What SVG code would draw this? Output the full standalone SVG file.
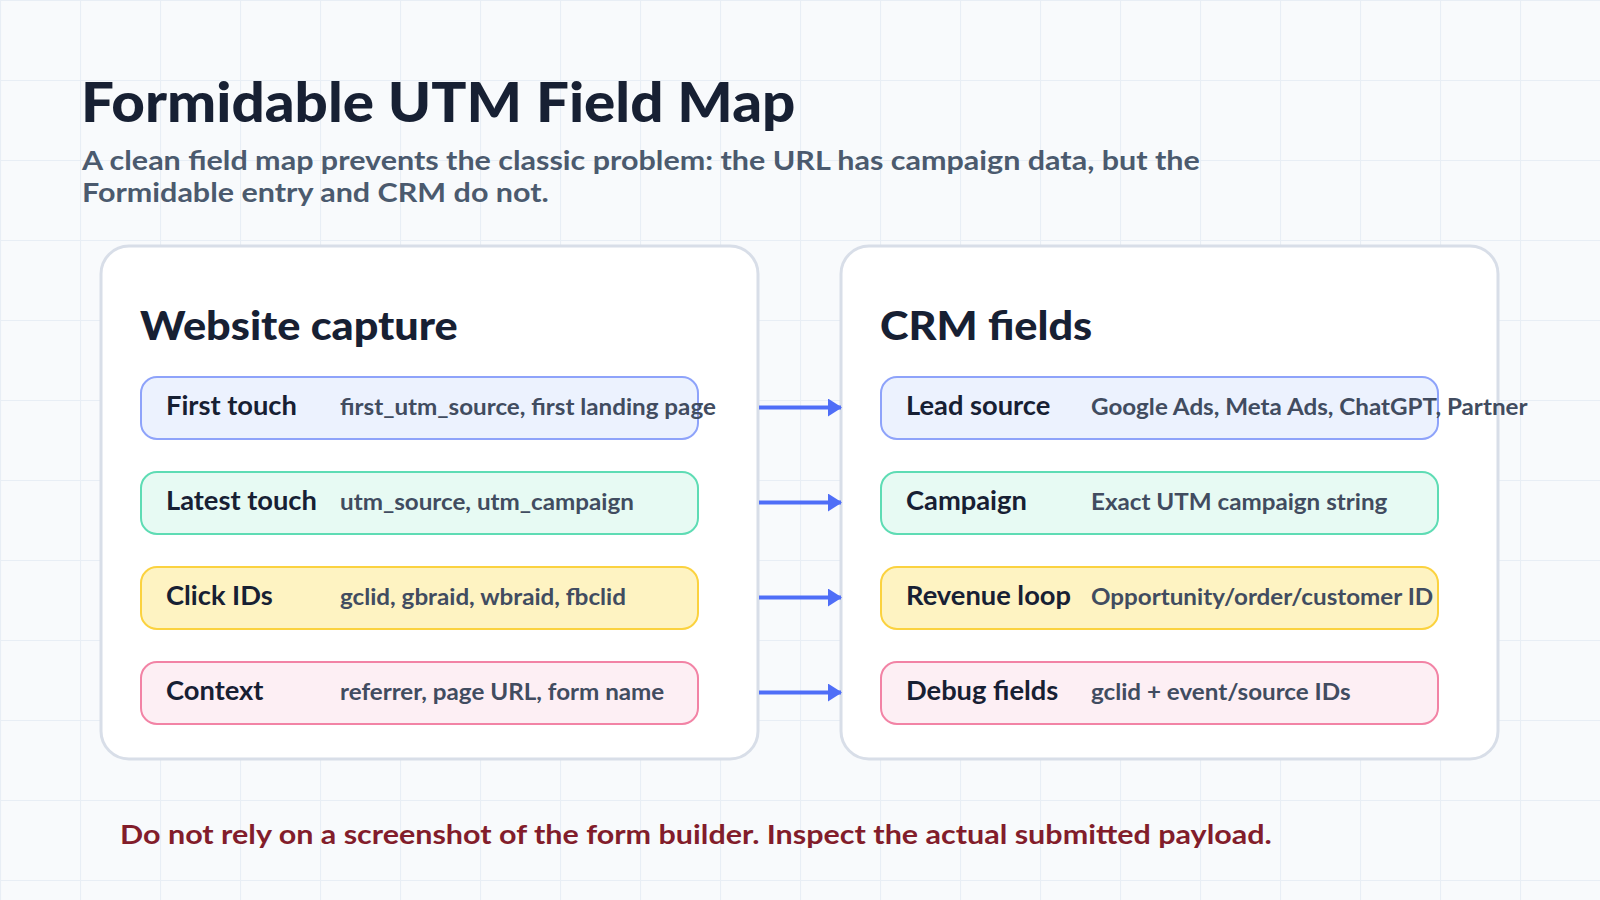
<svg xmlns="http://www.w3.org/2000/svg" width="1600" height="900" viewBox="0 0 1600 900">
<defs>
<pattern id="grid" width="80" height="80" patternUnits="userSpaceOnUse">
<path d="M0.5 0V80M0 0.5H80" fill="none" stroke="#e8eef5" stroke-width="1.2"/>
</pattern>
<marker id="arrow" markerWidth="14" markerHeight="18" refX="13" refY="9" orient="auto" markerUnits="userSpaceOnUse">
<path d="M0 0L14 9L0 18Z" fill="#4f6ef7"/>
</marker>
<style>
text{font-family:Lato,"Liberation Sans",sans-serif}
.title{font-weight:900;font-size:56px;fill:#172033}
.sub{font-weight:700;font-size:27px;fill:#4b5a6e}
.panel{fill:#ffffff;stroke:#d8dee8;stroke-width:3}
.ph{font-weight:900;font-size:40px;fill:#172033}
.lab{font-weight:700;font-size:26px;fill:#172033}
.val{font-weight:700;font-size:22px;fill:#414c60}
.blue{fill:#ecf2fe;stroke:#8ea3fa;stroke-width:2}
.green{fill:#e7faf3;stroke:#5edcb4;stroke-width:2}
.yellow{fill:#fef3c2;stroke:#fbd23f;stroke-width:2}
.pink{fill:#fdeff4;stroke:#f283a5;stroke-width:2}
.conn{stroke:#4f6ef7;stroke-width:4;fill:none}
.foot{font-weight:700;font-size:27px;fill:#821d2b}
</style>
</defs>
<rect width="1600" height="900" fill="#f8fafc"/>
<rect width="1600" height="900" fill="url(#grid)"/>

<text class="title" transform="translate(81 122) scale(1.042 1)">Formidable UTM Field Map</text>
<text class="sub" transform="translate(82 170) scale(1.13 1)">A clean field map prevents the classic problem: the URL has campaign data, but the</text>
<text class="sub" transform="translate(82 202) scale(1.13 1)">Formidable entry and CRM do not.</text>

<g id="website-capture">
<rect class="panel" x="101" y="246" width="657" height="513" rx="28"/>
<text class="ph" transform="translate(140 340) scale(1.08 1)">Website capture</text>
</g>
<g id="crm-fields">
<rect class="panel" x="841" y="246" width="657" height="513" rx="28"/>
<text class="ph" transform="translate(880 340) scale(1.08 1)">CRM fields</text>
</g>

<g id="first-touch">
<rect class="blue" x="141" y="377" width="557" height="62" rx="16"/>
<text class="lab" transform="translate(166 415) scale(1.05 1)">First touch</text>
<text class="val" transform="translate(340 415) scale(1.1 1)">first_utm_source, first landing page</text>
</g>
<g id="latest-touch">
<rect class="green" x="141" y="472" width="557" height="62" rx="16"/>
<text class="lab" transform="translate(166 510) scale(1.05 1)">Latest touch</text>
<text class="val" transform="translate(340 510) scale(1.1 1)">utm_source, utm_campaign</text>
</g>
<g id="click-ids">
<rect class="yellow" x="141" y="567" width="557" height="62" rx="16"/>
<text class="lab" transform="translate(166 605) scale(1.05 1)">Click IDs</text>
<text class="val" transform="translate(340 605) scale(1.1 1)">gclid, gbraid, wbraid, fbclid</text>
</g>
<g id="context">
<rect class="pink" x="141" y="662" width="557" height="62" rx="16"/>
<text class="lab" transform="translate(166 700) scale(1.05 1)">Context</text>
<text class="val" transform="translate(340 700) scale(1.1 1)">referrer, page URL, form name</text>
</g>

<g id="lead-source">
<rect class="blue" x="881" y="377" width="557" height="62" rx="16"/>
<text class="lab" transform="translate(906 415) scale(1.05 1)">Lead source</text>
<text class="val" transform="translate(1091 415) scale(1.1 1)">Google Ads, Meta Ads, ChatGPT, Partner</text>
</g>
<g id="campaign">
<rect class="green" x="881" y="472" width="557" height="62" rx="16"/>
<text class="lab" transform="translate(906 510) scale(1.05 1)">Campaign</text>
<text class="val" transform="translate(1091 510) scale(1.1 1)">Exact UTM campaign string</text>
</g>
<g id="revenue-loop">
<rect class="yellow" x="881" y="567" width="557" height="62" rx="16"/>
<text class="lab" transform="translate(906 605) scale(1.05 1)">Revenue loop</text>
<text class="val" transform="translate(1091 605) scale(1.1 1)">Opportunity/order/customer ID</text>
</g>
<g id="debug-fields">
<rect class="pink" x="881" y="662" width="557" height="62" rx="16"/>
<text class="lab" transform="translate(906 700) scale(1.05 1)">Debug fields</text>
<text class="val" transform="translate(1091 700) scale(1.1 1)">gclid + event/source IDs</text>
</g>

<g id="connectors">
<line class="conn" x1="759" y1="407.5" x2="841" y2="407.5" marker-end="url(#arrow)"/>
<line class="conn" x1="759" y1="502.5" x2="841" y2="502.5" marker-end="url(#arrow)"/>
<line class="conn" x1="759" y1="597.5" x2="841" y2="597.5" marker-end="url(#arrow)"/>
<line class="conn" x1="759" y1="692.5" x2="841" y2="692.5" marker-end="url(#arrow)"/>
</g>

<text class="foot" transform="translate(120 844) scale(1.13 1)">Do not rely on a screenshot of the form builder. Inspect the actual submitted payload.</text>
</svg>
